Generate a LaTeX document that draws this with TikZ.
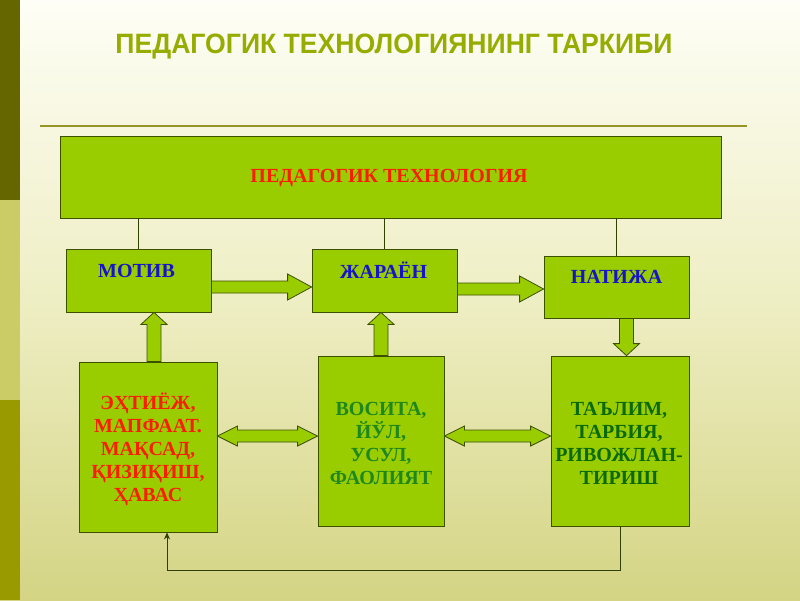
\documentclass[tikz,border=0pt]{standalone}
\usepackage{fontspec}
\setmainfont{Liberation Serif}
\newfontfamily\titlefont[FakeStretch=0.95]{Liberation Sans}
\usetikzlibrary{calc,arrows.meta}
\definecolor{bgtop}{RGB}{254,254,246}
\definecolor{bgmid}{RGB}{238,238,196}
\definecolor{bgbot}{RGB}{212,212,132}
\definecolor{bardark}{RGB}{102,102,0}
\definecolor{barlight}{RGB}{204,204,102}
\definecolor{barmid}{RGB}{153,153,0}
\definecolor{titlecol}{RGB}{150,172,0}
\definecolor{rulecol}{RGB}{150,150,40}
\definecolor{boxfill}{RGB}{154,205,0}
\definecolor{boxline}{RGB}{60,80,0}
\definecolor{redtxt}{RGB}{250,30,0}
\definecolor{bluetxt}{RGB}{20,20,200}
\definecolor{greentxt}{RGB}{30,135,30}
\definecolor{dgreentxt}{RGB}{10,105,10}
\newcommand\fatH[2]{% horizontal fat arrow from #1 to #2 (y of #1)
  \draw[fatarrow] let \p1=#1, \p2=#2 in
    (\x1,{\y1+6pt}) -- ({\x2-24pt},{\y1+6pt}) -- ({\x2-24pt},{\y1+13pt}) -- (\x2,\y1)
    -- ({\x2-24pt},{\y1-13pt}) -- ({\x2-24pt},{\y1-6pt}) -- (\x1,{\y1-6pt}) -- cycle;}
\newcommand\fatD[2]{% horizontal double fat arrow
  \draw[fatarrow] let \p1=#1, \p2=#2 in
    (\x1,\y1) -- ({\x1+20pt},{\y1+10pt}) -- ({\x1+20pt},{\y1+6pt}) -- ({\x2-20pt},{\y1+6pt})
    -- ({\x2-20pt},{\y1+10pt}) -- (\x2,\y1) -- ({\x2-20pt},{\y1-10pt}) -- ({\x2-20pt},{\y1-6pt})
    -- ({\x1+20pt},{\y1-6pt}) -- ({\x1+20pt},{\y1-10pt}) -- cycle;}
\newcommand\fatV[2]{% vertical fat arrow from #1 to #2 (x of #1)
  \draw[fatarrow] let \p1=#1, \p2=#2, \n1={\y2>\y1 ? 1 : -1} in
    ({\x1-7pt},\y1) -- ({\x1-7pt},{\y2-\n1*12pt}) -- ({\x1-13pt},{\y2-\n1*12pt}) -- (\x1,\y2)
    -- ({\x1+13pt},{\y2-\n1*12pt}) -- ({\x1+7pt},{\y2-\n1*12pt}) -- ({\x1+7pt},\y1) -- cycle;}
\begin{document}
\begin{tikzpicture}[x=1pt,y=-1pt,
  box/.style={draw=boxline,line width=0.8pt,fill=boxfill,inner sep=0pt},
  lbl/.style={font=\fontsize{20}{23}\selectfont\bfseries,align=center,inner sep=0pt},
  fatarrow/.style={draw=boxline,line width=0.8pt,fill=boxfill,line join=miter},
  thinline/.style={draw=boxline!80!black,line width=0.7pt}]
\useasboundingbox (0,0) rectangle (800,600);
% background
\shade[top color=bgtop,bottom color=bgbot,middle color=bgmid] (0,0) rectangle (800,600);
\fill[bardark] (0,0) rectangle (20,200);
\fill[barlight] (0,200) rectangle (20,400);
\fill[barmid] (0,400) rectangle (20,600);
% title and rule
\node[font=\titlefont\fontsize{28}{32}\selectfont\bfseries,text=titlecol,inner sep=0pt] (title) at (394,47) {ПЕДАГОГИК ТЕХНОЛОГИЯНИНГ ТАРКИБИ};
\coordinate (ruleL) at (40,126);
\coordinate (ruleR) at (747,126);
\draw[rulecol,line width=1.4pt] (ruleL) -- (ruleR);
% boxes
\node[box,minimum width=661,minimum height=82] (top) at (390.5,177) {};
\node[lbl,text=redtxt] (topt) at (389,178) {ПЕДАГОГИК ТЕХНОЛОГИЯ};
\node[box,minimum width=145,minimum height=63] (motiv) at (138.5,280.5) {};
\node[lbl,text=bluetxt] (motivt) at ($(motiv.center)+(-2,-10)$) {МОТИВ};
\node[box,minimum width=145,minimum height=63] (jar) at (384.5,280.5) {};
\node[lbl,text=bluetxt] (jart) at ($(jar.center)+(-1,-10)$) {ЖАРАЁН};
\node[box,minimum width=145,minimum height=62] (nat) at (616.5,287) {};
\node[lbl,text=bluetxt] (natt) at ($(nat.center)+(0,-10)$) {НАТИЖА};
\node[box,minimum width=138,minimum height=170] (eht) at (148,447) {};
\node[lbl,text=redtxt] (ehtt) at (148,449) {ЭҲТИЁЖ,\\МАПФААТ.\\МАҚСАД,\\ҚИЗИҚИШ,\\ҲАВАС};
\node[box,minimum width=126,minimum height=170] (vos) at (381,441) {};
\node[lbl,text=greentxt] (vost) at (381,443) {ВОСИТА,\\ЙЎЛ,\\УСУЛ,\\ФАОЛИЯТ};
\node[box,minimum width=138,minimum height=170] (tal) at (620,441) {};
\node[lbl,text=dgreentxt] (talt) at (619,443) {ТАЪЛИМ,\\ТАРБИЯ,\\РИВОЖЛАН-\\ТИРИШ};
% thin connectors from the top box
\draw[thinline] (motiv.north) -- (motiv.north |- top.south);
\draw[thinline] (jar.north) -- (jar.north |- top.south);
\draw[thinline] (nat.north) -- (nat.north |- top.south);
% fat arrows
\fatH{($(motiv.east)+(0,6.5)$)}{(jar.west)}
\fatH{($(jar.east)+(0,8.5)$)}{(nat.west)}
\fatV{($(eht.north)+(6,0)$)}{(motiv.south)}
\fatV{(vos.north)}{(jar.south)}
\fatV{($(nat.south)+(10,0)$)}{(tal.north)}
\fatD{($(eht.east)+(0,-11)$)}{(vos.west)}
\fatD{($(vos.east)+(0,-5)$)}{(tal.west)}
% feedback line
\coordinate (fbend) at ($(eht.south)+(19,0)$);
\draw[thinline,-{Stealth[length=7pt,width=6pt]}] (tal.south) -- ++(0,44) -| (fbend);
\end{tikzpicture}
\end{document}
